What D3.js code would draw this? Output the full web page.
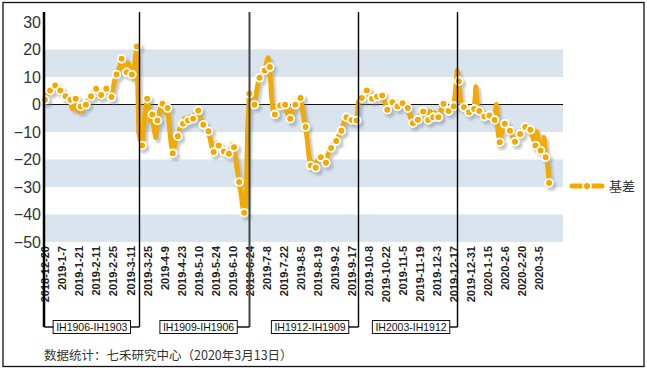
<!DOCTYPE html>
<html>
<head>
<meta charset="utf-8">
<script src="https://cdn.jsdelivr.net/npm/d3@7"></script>
<style>
  body { margin: 0; background: #fff; }
  svg { display: block; font-family: "Liberation Sans", Arial, sans-serif; }
</style>
</head>
<body>
<div id="chart"></div>
<script>
// --- Données : base quotidienne (jours de bourse, 2018-12-20 → 2020-3-13)
const basis = [
  1.7, 3.5, 4.2, 5.1, 6.0, 6.5, 6.9, 5.5, 4.8, 5.1,
  4.0, 3.2, 3.0, 2.0, 1.0, 1.7, -1.5, 0.5, 2.1, -1.8,
  -2.5, -0.7, -2.3, -1.0, -0.1, 1.5, 2.0, 3.0, 4.0, 5.0,
  5.7, 4.0, 2.5, 3.5, 4.5, 5.0, 5.7, 4.5, 3.0, 2.7,
  6.0, 9.0, 10.9, 12.5, 14.0, 16.6, 14.5, 12.0, 11.7, 15.0,
  12.0, 10.9, 9.5, 17.0, 21.1, -10.0, -13.0, -14.9, -8.0, -2.0,
  2.1, -1.0, -6.0, -3.6, -9.0, -12.0, -5.8, -3.0, -1.0, 0.3,
  -2.0, -3.0, -1.3, -8.0, -14.0, -17.7, -15.0, -12.0, -11.5, -9.0,
  -8.0, -7.0, -5.0, -6.5, -5.8, -4.5, -5.5, -5.2, -3.5, -3.0,
  -2.2, -4.5, -6.0, -7.4, -8.5, -9.0, -9.7, -12.5, -15.5, -17.3,
  -15.5, -14.0, -14.9, -16.0, -16.5, -17.1, -17.5, -18.5, -17.9, -16.0,
  -14.5, -15.5, -20.0, -24.5, -28.2, -32.0, -37.0, -39.4, -36.0, -8.0,
  3.9, 2.0, 0.5, -0.1, 4.0, 7.5, 9.7, 10.5, 11.5, 12.4,
  15.0, 17.0, 13.6, 3.0, -2.5, -3.6, -1.5, -0.5, -0.4, 0.5,
  0.2, -0.1, -2.5, -4.5, -5.2, -3.0, -1.0, -0.1, 1.0, 2.0,
  2.4, -1.0, -5.0, -8.2, -13.0, -19.0, -22.2, -21.0, -22.5, -23.0,
  -20.5, -19.5, -19.2, -20.0, -21.0, -21.2, -18.5, -17.0, -15.8, -14.5,
  -14.0, -13.3, -12.0, -10.5, -9.5, -7.5, -6.0, -4.6, -5.0, -5.5,
  -5.6, -6.0, -5.5, -5.8, 1.0, 2.0, 2.4, 3.5, 4.5, 5.1,
  4.0, 3.0, 2.1, 2.5, 3.5, 2.9, 3.0, 3.5, 3.3, 1.5,
  0.0, -1.9, -1.0, 0.0, 0.8, 0.5, -0.2, -0.7, 0.0, 0.8,
  0.5, 0.0, -0.5, -1.3, -3.5, -5.5, -6.8, -6.0, -5.8, -5.5,
  -4.0, -3.0, -2.5, -3.5, -4.5, -5.6, -2.5, -3.5, -4.6, -3.0,
  -4.0, -4.6, -3.0, -1.0, 0.3, -1.0, -2.0, -2.4, -1.5, -1.0,
  -0.6, 5.0, 12.4, 8.5, 1.5, -0.5, -1.0, -1.5, -2.2, -2.8,
  -2.0, -1.8, -1.6, 6.5, -1.0, -2.4, -3.0, -3.8, -4.4, -4.0,
  -4.5, -4.0, -4.5, -5.0, -5.6, 0.0, -10.0, -13.7, -10.5, -8.0,
  -7.0, -8.0, -9.0, -9.5, -11.0, -12.5, -13.5, -12.0, -11.0, -10.7,
  -9.5, -8.5, -8.2, -8.5, -9.0, -9.2, -11.0, -13.0, -14.9, -10.0,
  -14.0, -16.7, -17.5, -12.0, -19.2, -21.0, -28.5
];

// Étiquettes de l'axe X (une tous les 10 jours de bourse)
const xLabels = [
  "2018-12-20", "2019-1-7", "2019-1-21", "2019-2-11", "2019-2-25", "2019-3-11",
  "2019-3-25", "2019-4-9", "2019-4-23", "2019-5-10", "2019-5-24", "2019-6-10",
  "2019-6-24", "2019-7-8", "2019-7-22", "2019-8-5", "2019-8-19", "2019-9-2",
  "2019-9-17", "2019-10-8", "2019-10-22", "2019-11-5", "2019-11-19", "2019-12-3",
  "2019-12-17", "2019-12-31", "2020-1-15", "2020-2-6", "2020-2-20", "2020-3-5"
];

const yTicks = [30, 20, 10, 0, -10, -20, -30, -40, -50];
const bands = [[10, 20], [-10, 0], [-30, -20], [-50, -40]];

// Changements de contrat (indice du jour) et libellés
const switchIdx = [55, 120, 184, 242];
const contracts = ["IH1906-IH1903", "IH1909-IH1906", "IH1912-IH1909", "IH2003-IH1912"];
const boxNudge = [0, 4, 6, 3];

const seriesName = "基差";
const footer = "数据统计：七禾研究中心（2020年3月13日）";

// --- Dimensions
const W = 647, H = 370;
const plotL = 44, plotR = 563, plotT = 12, bracketY = 327;
const orange = "#f2a900";

const svg = d3.select("#chart").append("svg")
  .attr("width", W).attr("height", H);

const defs = svg.append("defs");
defs.append("filter").attr("id", "blur")
  .append("feGaussianBlur").attr("stdDeviation", 0.8);

// Cadre extérieur
svg.append("rect")
  .attr("x", 3).attr("y", 2.5).attr("width", 641).attr("height", 364)
  .attr("fill", "#fff").attr("stroke", "#111").attr("stroke-width", 1.3);

const x = d3.scaleLinear().domain([0, basis.length - 1]).range([45, 45 + 1.703 * (basis.length - 1)]);
const y = d3.scaleLinear().domain([-50, 30]).range([242, 22]);

// Bandes de fond
svg.append("g").selectAll("rect").data(bands).join("rect")
  .attr("x", plotL).attr("width", plotR - plotL)
  .attr("y", d => y(d[1])).attr("height", d => y(d[0]) - y(d[1]))
  .attr("fill", "#d9e4ef");

// Ligne du zéro
svg.append("line")
  .attr("x1", plotL).attr("x2", plotR)
  .attr("y1", y(0)).attr("y2", y(0))
  .attr("stroke", "#111").attr("stroke-width", 1.2);

// Axe Y
const yAxis = svg.append("g")
  .attr("transform", `translate(${plotL},0)`)
  .call(d3.axisLeft(y).tickValues(yTicks).tickSize(0).tickPadding(3));
yAxis.select(".domain").remove();
yAxis.selectAll("text")
  .attr("font-size", 16).attr("fill", "#333")
  .attr("font-family", "'Liberation Sans', Arial, sans-serif");

// Axe X (étiquettes verticales)
const xAxis = svg.append("g")
  .attr("transform", `translate(0,${y(-50)})`)
  .call(d3.axisBottom(x)
    .tickValues(xLabels.map((_, i) => i * 10))
    .tickFormat((d, i) => xLabels[i])
    .tickSize(0));
xAxis.select(".domain").remove();
xAxis.selectAll("text")
  .attr("transform", "rotate(-90)")
  .attr("x", -4).attr("y", 0).attr("dy", "0.35em")
  .style("text-anchor", "end")
  .attr("font-size", 11).attr("font-weight", "bold").attr("fill", "#222")
  .attr("font-family", "'Liberation Sans', Arial, sans-serif");

// Courbe + ombre
const line = d3.line().x((d, i) => x(i)).y(d => y(d));
const markerIdx = basis.map((_, i) => i).filter(i => i % 3 === 0 || i === basis.length - 1);

const shadow = svg.append("g")
  .attr("transform", "translate(2.5,3)")
  .attr("filter", "url(#blur)").attr("opacity", 0.45);
shadow.append("path").datum(basis)
  .attr("d", line).attr("fill", "none")
  .attr("stroke", "#7d8894").attr("stroke-width", 5).attr("stroke-linejoin", "round");
shadow.selectAll("circle").data(markerIdx).join("circle")
  .attr("cx", i => x(i)).attr("cy", i => y(basis[i])).attr("r", 5)
  .attr("fill", "#7d8894");

svg.append("path").datum(basis)
  .attr("d", line).attr("fill", "none")
  .attr("stroke", orange).attr("stroke-width", 4.8)
  .attr("stroke-linejoin", "round");

svg.append("g").selectAll("circle").data(markerIdx).join("circle")
  .attr("cx", i => x(i)).attr("cy", i => y(basis[i])).attr("r", 3.9)
  .attr("fill", orange).attr("stroke", "#fff").attr("stroke-width", 1.8);

// Axe Y : trait épais (se prolonge jusqu'au crochet)
svg.append("line")
  .attr("x1", plotL).attr("x2", plotL).attr("y1", plotT).attr("y2", bracketY)
  .attr("stroke", "#000").attr("stroke-width", 2.5);

// Lignes verticales de changement de contrat + cartouches
const switchX = switchIdx.map(i => Math.round(x(i)) + 0.5);
const starts = [plotL].concat(switchX.slice(0, -1));

svg.append("g").selectAll("line").data(switchX).join("line")
  .attr("x1", d => d).attr("x2", d => d)
  .attr("y1", plotT).attr("y2", bracketY)
  .attr("stroke", (d, i) => i === 1 ? "#444" : "#000")
  .attr("stroke-width", (d, i) => i === 1 ? 2 : 1.4);

const boxes = svg.append("g").selectAll("g").data(contracts).join("g");
boxes.each(function(name, i) {
  const g = d3.select(this);
  const t = g.append("text")
    .attr("x", (starts[i] + switchX[i]) / 2 + boxNudge[i])
    .attr("y", bracketY).attr("dy", "0.35em")
    .attr("text-anchor", "middle")
    .attr("font-size", 10.5).attr("fill", "#111")
    .text(name);
  const bb = t.node().getBBox();
  const bx0 = bb.x - 3, bx1 = bb.x + bb.width + 3;
  g.insert("rect", "text")
    .attr("x", bx0).attr("y", bracketY - 6.5)
    .attr("width", bx1 - bx0).attr("height", 13)
    .attr("fill", "#fff").attr("stroke", "#111").attr("stroke-width", 1);
  g.append("line")
    .attr("x1", bx1).attr("x2", switchX[i])
    .attr("y1", bracketY).attr("y2", bracketY)
    .attr("stroke", "#000").attr("stroke-width", 1.4);
  if (i === 0) {
    g.append("line")
      .attr("x1", plotL).attr("x2", bx0)
      .attr("y1", bracketY).attr("y2", bracketY)
      .attr("stroke", "#000").attr("stroke-width", 1.4);
  }
});

// Légende
const lg = svg.append("g").attr("transform", "translate(572,186)");
lg.append("line").attr("x1", 2.5).attr("x2", 32.5).attr("y1", 3).attr("y2", 3)
  .attr("stroke", "#7d8894").attr("stroke-width", 5).attr("stroke-linecap", "round")
  .attr("opacity", 0.45).attr("filter", "url(#blur)");
lg.append("line").attr("x1", 0).attr("x2", 30).attr("y1", 0).attr("y2", 0)
  .attr("stroke", orange).attr("stroke-width", 5).attr("stroke-linecap", "round");
lg.append("circle").attr("cx", 15).attr("cy", 0).attr("r", 4)
  .attr("fill", orange).attr("stroke", "#fff").attr("stroke-width", 1.8);
lg.append("text").attr("x", 37).attr("y", 0).attr("dy", "0.35em")
  .attr("font-size", 13).attr("fill", "#333")
  .attr("font-family", "'Noto Sans CJK SC', sans-serif")
  .text(seriesName);

// Source
svg.append("text")
  .attr("x", 44).attr("y", 360)
  .attr("font-size", 12.5).attr("fill", "#333")
  .attr("font-family", "'Noto Sans CJK SC', sans-serif")
  .text(footer);
</script>
</body>
</html>
